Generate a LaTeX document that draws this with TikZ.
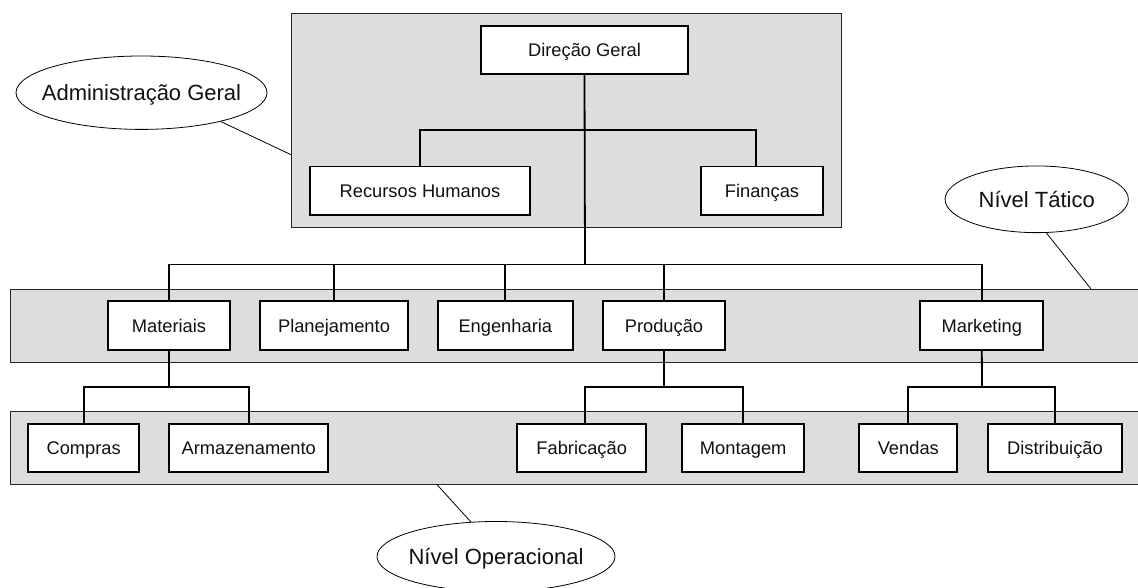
\documentclass[tikz,border=0pt]{standalone}
\usepackage{fontspec}
\setmainfont{Liberation Sans}
\usetikzlibrary{calc,shapes.geometric}
\definecolor{bandgray}{RGB}{221,221,221}
\definecolor{ink}{RGB}{17,17,17}
\begin{document}
\begin{tikzpicture}[x=1pt,y=-1pt,
  unit/.style={draw=black, line width=1.8pt, fill=white, inner sep=0pt,
    text=ink, font=\fontsize{18.3}{22}\selectfont,
    text height=13.1pt, text depth=0pt, minimum height=48.5pt},
  band/.style={draw=black!85, line width=1pt, fill=bandgray},
  conn/.style={line width=1.8pt, draw=black},
  tag/.style={ellipse, draw=black, line width=0.8pt, fill=white, inner sep=0pt,
    text=ink, font=\fontsize{22}{26}\selectfont,
    text height=15.8pt, text depth=0pt},
  callout/.style={line width=0.8pt, draw=black}]
\useasboundingbox (0,0) rectangle (1138,588);

% level bands
\fill[white] (0,0) rectangle (1138,588);
\draw[band] (291.7,13.3) rectangle (841,227.7);
\draw[band] (10.5,289) rectangle (1150,362);
\draw[band] (10.5,411.7) rectangle (1150,484.3);

% top management
\node[unit, minimum width=207pt] (dg)  at (584.5,50)  {Direção Geral};
\node[unit, minimum width=220pt] (rh)  at (420,190.8) {Recursos Humanos};
\node[unit, minimum width=122pt] (fin) at (762,190.8) {Finanças};

% tactical level
\node[unit, minimum width=122.6pt] (mat) at (169,325.5)   {Materiais};
\node[unit, minimum width=147.4pt] (pla) at (334,325.5)   {Planejamento};
\node[unit, minimum width=134.7pt] (eng) at (505.3,325.5) {Engenharia};
\node[unit, minimum width=122.6pt] (pro) at (664,325.5)   {Produção};
\node[unit, minimum width=123pt]   (mkt) at (981.8,325.5) {Marketing};

% operational level
\node[unit, minimum width=110.7pt] (com) at (83.7,448)   {Compras};
\node[unit, minimum width=159pt]   (arm) at (248.8,448)  {Armazenamento};
\node[unit, minimum width=128.7pt] (fab) at (581.7,448)  {Fabricação};
\node[unit, minimum width=122.3pt] (mon) at (743.2,448)  {Montagem};
\node[unit, minimum width=98pt]    (ven) at (908.3,448)  {Vendas};
\node[unit, minimum width=134.6pt] (dis) at (1055,448)   {Distribuição};

% junction points of the tree
\coordinate (j0) at (585,130);
\coordinate (j1) at (585,264.5);
\coordinate (jm) at (169,387);
\coordinate (jp) at (664,387);
\coordinate (jk) at (982,387);

% connectors
\draw[conn] (dg.south) -- (j1);
\draw[conn] (rh.north) |- (j0) -| ($(fin.north)+(-6.3,0)$);
\draw[conn] (mat.north) |- (j1) -| (mkt.north);
\draw[conn] (pla.north) -- (pla.north |- j1);
\draw[conn] (eng.north) -- (eng.north |- j1);
\draw[conn] (pro.north) -- (pro.north |- j1);
\draw[conn] (mat.south) -- (jm);
\draw[conn] (com.north) |- (jm) -| (arm.north);
\draw[conn] (pro.south) -- (jp);
\draw[conn] ($(fab.north)+(3,0)$) |- (jp) -| (mon.north);
\draw[conn] (mkt.south) -- (jk);
\draw[conn] (ven.north) |- (jk) -| (dis.north);

% level labels
\node[tag, minimum width=251pt, minimum height=73.4pt] (adm) at (141.5,92.7)
  {\makebox[0pt]{Administração Geral}};
\node[tag, minimum width=183.3pt, minimum height=66.7pt] (tat) at (1036.7,199.3)
  {\makebox[0pt]{Nível Tático}};
\node[tag, minimum width=238pt, minimum height=70pt] (ope) at (496,556.5)
  {\makebox[0pt]{Nível Operacional}};

\coordinate (admend) at (291.7,155);
\coordinate (tatend) at (1091,289);
\coordinate (opeend) at (436.7,484.3);
\draw[callout] (adm.-20) -- (admend);
\draw[callout] (tat.-74) -- (tatend);
\draw[callout] (ope.126) -- (opeend);
\end{tikzpicture}
\end{document}
